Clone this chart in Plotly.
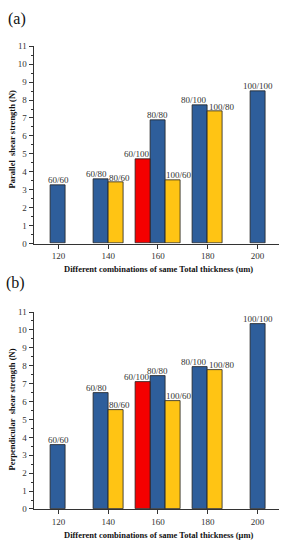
import plotly.graph_objects as go

# ---- data ----
combos = ["60/60", "60/80", "80/60", "60/100", "80/80", "100/60", "80/100", "100/80", "100/100"]
total_thickness = [120, 140, 140, 160, 160, 160, 180, 180, 200]
parallel = [3.25, 3.6, 3.4, 4.7, 6.9, 3.55, 7.7, 7.35, 8.5]
perpendicular = [3.56, 6.5, 5.55, 7.1, 7.4, 6.03, 7.93, 7.75, 10.35]
color_group = ["blue", "blue", "yellow", "red", "blue", "yellow", "blue", "yellow", "blue"]
x_ticks = [120, 140, 160, 180, 200]
y_ticks = list(range(0, 12))

COLORS = {"blue": "#2E5E9B", "yellow": "#FFC414", "red": "#F40000"}
BAR_W = 6
FONT = "Liberation Serif"
W, H = 287, 550

# position of each bar within its thickness group
counts = {t: total_thickness.count(t) for t in set(total_thickness)}
seen = {}
xpos, lab_x, lab_anchor = [], [], []
for t in total_thickness:
    i = seen.get(t, 0)
    seen[t] = i + 1
    n = counts[t]
    xc = t + (i - (n - 1) / 2) * BAR_W
    xpos.append(xc)
    if n > 1 and i == 0:
        lab_x.append(xc + BAR_W / 2); lab_anchor.append("right")
    elif n > 1 and i == n - 1:
        lab_x.append(xc - BAR_W / 2); lab_anchor.append("left")
    else:
        lab_x.append(xc); lab_anchor.append("center")

fig = go.Figure()
ann = []
for vals, xa, ya in [(parallel, "x", "y"), (perpendicular, "x2", "y2")]:
    for grp in ["blue", "yellow", "red"]:
        idx = [k for k, g in enumerate(color_group) if g == grp]
        fig.add_trace(go.Bar(
            x=[xpos[k] for k in idx], y=[vals[k] for k in idx],
            width=BAR_W, marker=dict(color=COLORS[grp], line=dict(color="#222", width=0.8)),
            xaxis=xa, yaxis=ya, showlegend=False, hoverinfo="skip",
        ))
    for k in range(len(combos)):
        ann.append(dict(text=combos[k], x=lab_x[k], y=vals[k], xref=xa, yref=ya,
                        showarrow=False, xanchor=lab_anchor[k], yanchor="bottom",
                        borderpad=0, yshift=-1,
                        font=dict(family=FONT, size=9, color="#333")))

xdom = [33.5 / W, 279 / W]
dom_a = [1 - 243 / H, 1 - 42 / H]
dom_b = [1 - 513.3 / H, 1 - 312.7 / H]

xcommon = dict(range=[110, 208.6], tickvals=x_ticks, ticks="outside", ticklen=4, tickwidth=1,
               tickcolor="#333", showline=True, linecolor="#333", linewidth=1, showgrid=False,
               zeroline=False, tickfont=dict(family=FONT, size=9, color="#333"), domain=xdom)
ycommon = dict(range=[0, 11], tickvals=y_ticks, ticks="outside", ticklen=4, tickwidth=1,
               tickcolor="#333", showline=True, linecolor="#333", linewidth=1, showgrid=False,
               zeroline=False, tickfont=dict(family=FONT, size=9, color="#333"),
               minor=dict(dtick=0.5, ticks="outside", ticklen=2, tickcolor="#333", showgrid=False))

fig.update_layout(
    width=W, height=H, margin=dict(l=0, r=0, t=0, b=0),
    paper_bgcolor="white", plot_bgcolor="white", bargap=0,
    xaxis=dict(**xcommon, anchor="y"),
    yaxis=dict(**ycommon, domain=dom_a, anchor="x"),
    xaxis2=dict(**xcommon, anchor="y2"),
    yaxis2=dict(**ycommon, domain=dom_b, anchor="x2"),
)

def add_text(txt, xpx, ypx, size, bold=False, angle=0):
    ann.append(dict(text=f"<b>{txt}</b>" if bold else txt, x=xpx / W, y=1 - ypx / H,
                    xref="paper", yref="paper", showarrow=False, textangle=angle,
                    xanchor="center", yanchor="middle",
                    font=dict(family=FONT, size=size, color="#111")))

add_text("(a)", 17, 14, 16)
add_text("(b)", 15, 283, 16)
add_text("Parallel\u00a0 shear strength (N)", 12, 137, 8.5, bold=True, angle=-90)
add_text("Perpendicular\u00a0 shear strength (N)", 12, 412, 8.5, bold=True, angle=-90)
add_text("Different combinations of same Total thickness (um)", 158, 269, 8.5, bold=True)
add_text("Different combinations of same Total thickness (\u03bcm)", 158, 540, 8.5, bold=True)
fig.update_layout(annotations=ann)

fig.write_html("out.html", config={"displayModeBar": False},
               post_script="document.body.style.margin='0';document.body.style.overflow='hidden';")
